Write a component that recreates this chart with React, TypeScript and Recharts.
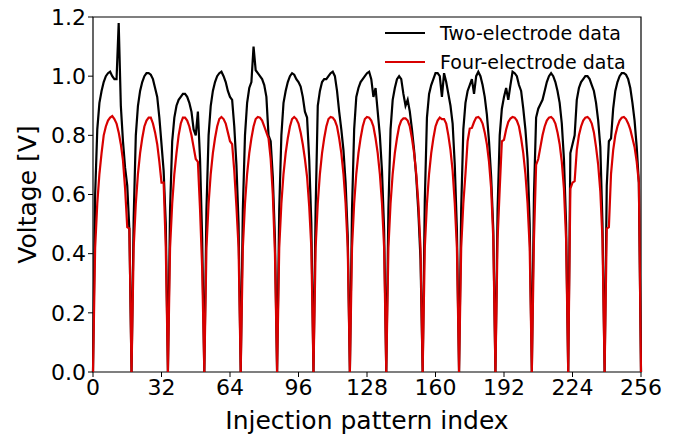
import { LineChart, Line, XAxis, YAxis, Label, ReferenceArea } from 'recharts'

// one value per injection pattern index, 0..256, grouped by cycle
const twoElectrode = [
  0, 0.6, 0.82, 0.91, 0.95, 0.98, 1.0, 1.01, 1.015, 1.0, 0.99, 0.99, 1.18, 0.9, 0.78, 0.69, 0.63, 0.48,
  0, 0.52, 0.8, 0.9, 0.95, 0.98, 1.0, 1.01, 1.01, 1.005, 0.99, 0.96, 0.93, 0.86, 0.77, 0.68, 0.5,
  0, 0.55, 0.78, 0.86, 0.9, 0.92, 0.93, 0.94, 0.94, 0.93, 0.91, 0.88, 0.82, 0.8, 0.88, 0.72, 0.45,
  0, 0.55, 0.8, 0.9, 0.95, 0.98, 1.0, 1.01, 1.015, 1.0, 0.98, 0.95, 0.93, 0.92, 0.83, 0.7, 0.5,
  0, 0.55, 0.8, 0.91, 0.96, 0.98, 1.1, 1.02, 1.01, 1.0, 0.99, 0.97, 0.93, 0.8, 0.78, 0.66, 0.45,
  0, 0.55, 0.8, 0.91, 0.95, 0.98, 1.0, 1.01, 1.005, 0.99, 0.98, 0.965, 0.93, 0.88, 0.86, 0.72, 0.5,
  0, 0.55, 0.9, 0.95, 0.98, 0.99, 0.99, 1.0, 1.01, 1.015, 1.0, 0.95, 0.88, 0.82, 0.75, 0.64, 0.46,
  0, 0.55, 0.82, 0.93, 0.96, 0.98, 0.99, 1.0, 1.01, 1.015, 0.99, 0.93, 0.96, 0.88, 0.8, 0.68, 0.48,
  0, 0.55, 0.82, 0.92, 0.96, 0.99, 1.0, 0.99, 0.94, 0.9, 0.92, 0.88, 0.82, 0.75, 0.66, 0.54, 0.38,
  0, 0.58, 0.86, 0.94, 0.97, 0.99, 1.01, 1.01, 1.0, 0.93, 1.01, 0.98, 0.94, 0.9, 0.84, 0.7, 0.48,
  0, 0.55, 0.82, 0.91, 0.95, 0.97, 0.99, 0.94, 1.0, 1.015, 1.0, 0.97, 0.93, 0.87, 0.78, 0.66, 0.48,
  0, 0.55, 0.8, 0.89, 0.93, 0.96, 0.92, 0.97, 1.015, 1.01, 1.0, 0.97, 0.95, 0.89, 0.82, 0.72, 0.5,
  0, 0.6, 0.86, 0.89, 0.905, 0.92, 0.95, 0.98, 1.0, 1.01, 1.0, 0.98, 0.95, 0.91, 0.84, 0.72, 0.5,
  0, 0.74, 0.77, 0.8, 0.92, 0.96, 0.98, 0.99, 1.0, 1.0, 0.99, 0.97, 0.95, 0.91, 0.85, 0.76, 0.5,
  0, 0.63, 0.78, 0.79, 0.89, 0.95, 0.98, 1.0, 1.01, 1.01, 1.005, 0.99, 0.96, 0.91, 0.85, 0.76, 0.64, 0
]

const fourElectrode = [
  0, 0.42, 0.57, 0.67, 0.74, 0.8, 0.83, 0.85, 0.86, 0.865, 0.855, 0.84, 0.81, 0.77, 0.715, 0.62, 0.49, 0.485,
  0, 0.42, 0.57, 0.67, 0.74, 0.79, 0.83, 0.85, 0.86, 0.86, 0.84, 0.81, 0.77, 0.71, 0.64, 0.64, 0.42,
  0, 0.42, 0.57, 0.67, 0.74, 0.8, 0.84, 0.86, 0.86, 0.85, 0.83, 0.8, 0.76, 0.72, 0.71, 0.55, 0.35,
  0, 0.42, 0.57, 0.67, 0.74, 0.79, 0.83, 0.855, 0.862, 0.855, 0.84, 0.81, 0.78, 0.77, 0.68, 0.56, 0.42,
  0, 0.42, 0.57, 0.67, 0.74, 0.79, 0.83, 0.855, 0.862, 0.86, 0.85, 0.83, 0.81, 0.79, 0.72, 0.6, 0.4,
  0, 0.42, 0.57, 0.67, 0.74, 0.79, 0.83, 0.855, 0.862, 0.855, 0.84, 0.81, 0.77, 0.72, 0.66, 0.56, 0.42,
  0, 0.42, 0.57, 0.67, 0.74, 0.79, 0.83, 0.855, 0.862, 0.86, 0.85, 0.83, 0.79, 0.74, 0.67, 0.57, 0.42,
  0, 0.42, 0.57, 0.67, 0.74, 0.79, 0.83, 0.855, 0.862, 0.86, 0.85, 0.83, 0.79, 0.74, 0.67, 0.57, 0.42,
  0, 0.42, 0.57, 0.67, 0.74, 0.79, 0.83, 0.85, 0.857, 0.857, 0.85, 0.83, 0.79, 0.74, 0.67, 0.57, 0.42,
  0, 0.42, 0.57, 0.67, 0.74, 0.79, 0.83, 0.85, 0.86, 0.855, 0.855, 0.84, 0.8, 0.75, 0.68, 0.57, 0.42,
  0, 0.42, 0.57, 0.67, 0.78, 0.823, 0.825, 0.845, 0.86, 0.862, 0.855, 0.84, 0.81, 0.77, 0.71, 0.62, 0.45,
  0, 0.45, 0.62, 0.78, 0.785, 0.82, 0.845, 0.857, 0.862, 0.86, 0.85, 0.83, 0.79, 0.74, 0.67, 0.57, 0.42,
  0, 0.45, 0.7, 0.72, 0.76, 0.8, 0.83, 0.85, 0.86, 0.862, 0.855, 0.84, 0.81, 0.77, 0.71, 0.62, 0.45,
  0, 0.62, 0.64, 0.645, 0.75, 0.8, 0.83, 0.85, 0.86, 0.862, 0.855, 0.84, 0.81, 0.76, 0.7, 0.61, 0.45,
  0, 0.485, 0.49, 0.67, 0.75, 0.8, 0.83, 0.85, 0.86, 0.862, 0.855, 0.84, 0.82, 0.79, 0.76, 0.71, 0.64, 0
]

const xTicks = [0, 32, 64, 96, 128, 160, 192, 224, 256]
const yTicks = [0, 0.2, 0.4, 0.6, 0.8, 1.0, 1.2]

const legendItems = [
  { label: 'Two-electrode data', color: '#000000' },
  { label: 'Four-electrode data', color: '#d80000' }
]

const data = twoElectrode.map((v, i) => ({ idx: i, two: v, four: fourElectrode[i] }))

const font = 'DejaVu Sans'

const App = () => {
  return (
    <div style={{ position: 'absolute', left: 0, top: 0, width: 682, height: 435, background: '#fff' }}>
      <LineChart width={682} height={435} data={data} margin={{ top: 17, right: 41, bottom: 0, left: 0 }}>
        <XAxis
          dataKey="idx"
          type="number"
          domain={[0, 256]}
          ticks={xTicks}
          height={63}
          axisLine={false}
          tickLine={{ stroke: '#000' }}
          tickSize={5}
          tickMargin={2}
          tick={{ fill: '#000', fontSize: 22, fontFamily: font }}
        >
          <Label value="Injection pattern index" position="insideBottom" offset={6} fill="#000" fontSize={25} fontFamily={font} />
        </XAxis>
        <YAxis
          type="number"
          domain={[0, 1.2]}
          ticks={yTicks}
          width={93}
          axisLine={false}
          tickLine={{ stroke: '#000' }}
          tickSize={5}
          tickMargin={2}
          tickFormatter={(v: number) => v.toFixed(1)}
          tick={{ fill: '#000', fontSize: 22, fontFamily: font }}
        >
          <Label value="Voltage [V]" angle={-90} position="insideLeft" offset={27} fill="#000" fontSize={25}
            fontFamily={font} style={{ textAnchor: 'middle' }} />
        </YAxis>
        <Line type="linear" dataKey="two" stroke="#000000" strokeWidth={2.2} dot={false} isAnimationActive={false} />
        <Line type="linear" dataKey="four" stroke="#d80000" strokeWidth={2.2} dot={false} isAnimationActive={false} />
        {/* matplotlib-style frame round the plot area */}
        <ReferenceArea x1={0} x2={256} y1={0} y2={1.2} fill="none" stroke="#000" strokeWidth={1.2} />
      </LineChart>
      <div style={{ position: 'absolute', top: 18, left: 385, fontFamily: font, fontSize: 19, color: '#000' }}>
        {legendItems.map(item => (
          <div key={item.label} style={{ display: 'flex', alignItems: 'center', height: 29 }}>
            <span style={{ display: 'inline-block', width: 40, height: 2, background: item.color, marginRight: 15 }} />
            <span>{item.label}</span>
          </div>
        ))}
      </div>
    </div>
  )
}

export default App
